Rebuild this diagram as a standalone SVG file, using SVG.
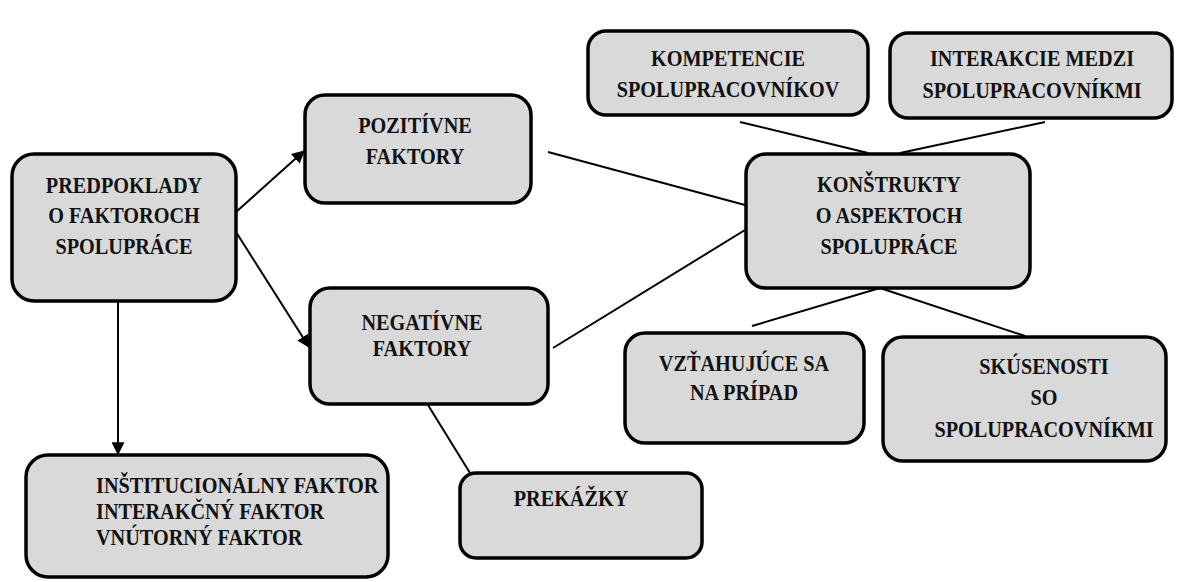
<svg xmlns="http://www.w3.org/2000/svg" width="1185" height="582" viewBox="0 0 1185 582">
<defs>
<style>
.box{fill:#d9d9d9;stroke:#000;stroke-width:3.5}
.t{font-family:"Liberation Serif","DejaVu Serif",serif;font-weight:bold;font-size:22.5px;fill:#111;text-anchor:middle}
.l{text-anchor:start}
.c{stroke:#000;stroke-width:2;fill:none}
</style>
<marker id="ah" viewBox="0 0 10 10" refX="9" refY="5" markerWidth="6.5" markerHeight="6.5" orient="auto-start-reverse" markerUnits="strokeWidth">
<path d="M0,0 L10,5 L0,10 z" fill="#000"/>
</marker>
</defs>
<rect width="1185" height="582" fill="#fff"/>
<g id="connectors">
<line class="c" x1="236" y1="212" x2="304" y2="151" marker-end="url(#ah)"/>
<line class="c" x1="236" y1="232" x2="309" y2="347" marker-end="url(#ah)"/>
<line class="c" x1="118" y1="302" x2="118" y2="454" marker-end="url(#ah)"/>
<line class="c" x1="548" y1="152" x2="745" y2="205"/>
<line class="c" x1="553" y1="348" x2="745" y2="230"/>
<line class="c" x1="740" y1="122" x2="868" y2="153"/>
<line class="c" x1="1045" y1="122" x2="900" y2="153"/>
<line class="c" x1="880" y1="288" x2="752" y2="326"/>
<line class="c" x1="880" y1="288" x2="1025" y2="336"/>
<line class="c" x1="428" y1="405" x2="470" y2="473"/>
</g>
<g id="predpoklady">
<rect class="box" x="12" y="154" width="224" height="147" rx="22"/>
<g transform="translate(124,0) scale(0.9,1)">
<text class="t" x="0" y="193">PREDPOKLADY</text>
<text class="t" x="0" y="223">O FAKTOROCH</text>
<text class="t" x="0" y="254">SPOLUPRÁCE</text>
</g>
</g>
<g id="pozitivne">
<rect class="box" x="305" y="95" width="226" height="108" rx="20"/>
<g transform="translate(415,0) scale(0.9,1)">
<text class="t" x="0" y="133">POZITÍVNE</text>
<text class="t" x="0" y="164">FAKTORY</text>
</g>
</g>
<g id="negativne">
<rect class="box" x="310" y="288" width="238" height="116" rx="20"/>
<g transform="translate(422,0) scale(0.9,1)">
<text class="t" x="0" y="330">NEGATÍVNE</text>
<text class="t" x="0" y="356">FAKTORY</text>
</g>
</g>
<g id="kompetencie">
<rect class="box" x="588" y="31" width="280" height="84" rx="18"/>
<g transform="translate(728,0) scale(0.9,1)">
<text class="t" x="0" y="66">KOMPETENCIE</text>
<text class="t" x="0" y="97">SPOLUPRACOVNÍKOV</text>
</g>
</g>
<g id="interakcie">
<rect class="box" x="890" y="33" width="282" height="85" rx="18"/>
<g transform="translate(1032,0) scale(0.9,1)">
<text class="t" x="0" y="66">INTERAKCIE MEDZI</text>
<text class="t" x="0" y="98">SPOLUPRACOVNÍKMI</text>
</g>
</g>
<g id="konstrukty">
<rect class="box" x="746" y="154" width="284" height="134" rx="20"/>
<g transform="translate(889,0) scale(0.9,1)">
<text class="t" x="0" y="192">KONŠTRUKTY</text>
<text class="t" x="0" y="223">O ASPEKTOCH</text>
<text class="t" x="0" y="254">SPOLUPRÁCE</text>
</g>
</g>
<g id="vztahujuce">
<rect class="box" x="625" y="333" width="239" height="110" rx="20"/>
<g transform="translate(744,0) scale(0.9,1)">
<text class="t" x="0" y="371">VZŤAHUJÚCE SA</text>
<text class="t" x="0" y="400">NA PRÍPAD</text>
</g>
</g>
<g id="skusenosti">
<rect class="box" x="883" y="337" width="283" height="124" rx="20"/>
<g transform="translate(1044,0) scale(0.9,1)">
<text class="t" x="0" y="374">SKÚSENOSTI</text>
<text class="t" x="0" y="405">SO</text>
<text class="t" x="0" y="437">SPOLUPRACOVNÍKMI</text>
</g>
</g>
<g id="faktory">
<rect class="box" x="26" y="455" width="362" height="122" rx="22"/>
<g transform="translate(96,0) scale(0.9,1)">
<text class="t l" x="0" y="493">INŠTITUCIONÁLNY FAKTOR</text>
<text class="t l" x="0" y="519">INTERAKČNÝ FAKTOR</text>
<text class="t l" x="0" y="545">VNÚTORNÝ FAKTOR</text>
</g>
</g>
<g id="prekazky">
<rect class="box" x="460" y="473" width="242" height="85" rx="16"/>
<g transform="translate(571,0) scale(0.9,1)">
<text class="t" x="0" y="506">PREKÁŽKY</text>
</g>
</g>
</svg>
